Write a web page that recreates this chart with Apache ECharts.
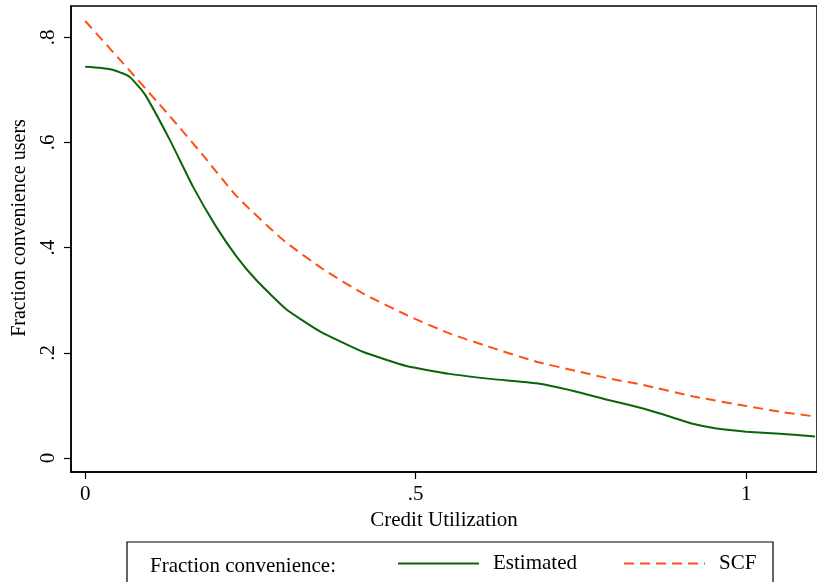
<!DOCTYPE html>
<html>
<head>
<meta charset="utf-8">
<script src="https://cdn.jsdelivr.net/npm/echarts@6/dist/echarts.min.js"></script>
<style>
html,body{margin:0;padding:0;background:#fff;}
#c{width:817px;height:582px;}
</style>
</head>
<body>
<div id="c"></div>
<script>
var xTicks = [0, 0.5, 1];
var yTicks = [0, 0.2, 0.4, 0.6, 0.8];
var estimatedX = [0, 0.022, 0.045, 0.067, 0.09, 0.128, 0.163, 0.198, 0.229, 0.259, 0.304, 0.355, 0.42, 0.486, 0.551, 0.617, 0.683, 0.74, 0.793, 0.844, 0.884, 0.919, 0.955, 1.0, 1.051, 1.104];
var estimatedY = [0.744, 0.742, 0.737, 0.725, 0.692, 0.605, 0.516, 0.44, 0.383, 0.338, 0.283, 0.241, 0.202, 0.175, 0.16, 0.15, 0.142, 0.127, 0.11, 0.094, 0.079, 0.065, 0.056, 0.05, 0.046, 0.041];
var scfX = [0, 0.057, 0.128, 0.178, 0.229, 0.299, 0.36, 0.42, 0.486, 0.551, 0.617, 0.683, 0.748, 0.793, 0.844, 0.92, 1.0, 1.051, 1.104];
var scfY = [0.831, 0.751, 0.650, 0.576, 0.498, 0.415, 0.359, 0.313, 0.272, 0.237, 0.209, 0.183, 0.164, 0.151, 0.139, 0.117, 0.099, 0.088, 0.079];

function pairs(xs, ys){ return xs.map(function(x,i){ return [x, ys[i]]; }); }
function fmt(v){
  var s = String(Math.round(v*10)/10);
  return s.replace(/^0\./, '.');
}
var FONT = 'Liberation Serif';
var chart = echarts.init(document.getElementById('c'));
chart.setOption({
  animation: false,
  backgroundColor: '#fff',
  textStyle: {fontFamily: FONT},
  grid: {left: 71, top: 6, right: -2, bottom: 110, show: true, borderColor: '#000', borderWidth: 1.5, containLabel: false},
  xAxis: {
    type: 'value', min: -0.0215, max: 1.107,
    name: 'Credit Utilization', nameLocation: 'middle', nameGap: 33,
    nameTextStyle: {fontFamily: FONT, fontSize: 21, color: '#000'},
    axisLine: {show: true, onZero: false, lineStyle: {color: '#000', width: 1.5}},
    axisTick: {show: true, length: 7, lineStyle: {color: '#000', width: 1.2}, customValues: xTicks},
    axisLabel: {fontFamily: FONT, fontSize: 21, color: '#000', margin: 12, customValues: xTicks, formatter: fmt},
    splitLine: {show: false}
  },
  yAxis: {
    type: 'value', min: -0.0266, max: 0.8595,
    name: 'Fraction convenience users', nameLocation: 'middle', nameGap: 38, nameRotate: 90,
    nameTextStyle: {fontFamily: FONT, fontSize: 20, color: '#000', padding: [0, 0, 0, 22]},
    axisLine: {show: true, onZero: false, lineStyle: {color: '#000', width: 1.5}},
    axisTick: {show: true, length: 7, lineStyle: {color: '#000', width: 1.2}, customValues: yTicks},
    axisLabel: {fontFamily: FONT, fontSize: 21, color: '#000', margin: 12, rotate: 90, customValues: yTicks, formatter: fmt},
    splitLine: {show: false}
  },
  legend: {
    left: 397, bottom: 8, padding: 0,
    itemWidth: 81, itemHeight: 14, itemGap: 46,
    itemStyle: {opacity: 0},
    textStyle: {fontFamily: FONT, fontSize: 21, color: '#000', padding: [6, 0, 0, 9]},
    data: ['Estimated', 'SCF']
  },
  graphic: [
    {type: 'rect', shape: {x: 127, y: 542, width: 646, height: 60}, style: {fill: 'none', stroke: '#000', lineWidth: 1.2}, silent: true},
    {type: 'text', left: 150, top: 556, style: {text: 'Fraction convenience:', font: '21px "Liberation Serif"', fill: '#000'}}
  ],
  series: [
    {name: 'Estimated', type: 'line', data: pairs(estimatedX, estimatedY), showSymbol: false, symbol: 'none', smooth: 0.15,
     lineStyle: {color: '#0a640a', width: 2}, itemStyle: {color: '#0a640a'}},
    {name: 'SCF', type: 'line', data: pairs(scfX, scfY), showSymbol: false, symbol: 'none', smooth: 0.2,
     lineStyle: {color: '#ff5014', width: 2, type: [10, 6]}, itemStyle: {color: '#ff5014'}}
  ]
});
</script>
</body>
</html>
